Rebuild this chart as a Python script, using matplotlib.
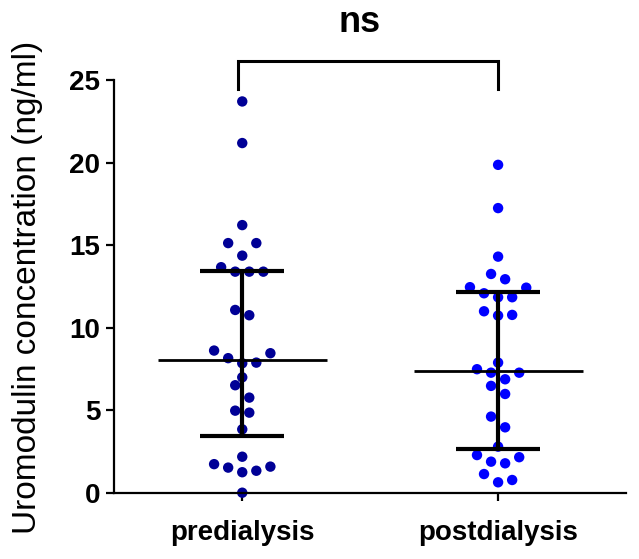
import numpy as np
import matplotlib
matplotlib.use("Agg")
import matplotlib.pyplot as plt

categories = ["predialysis", "postdialysis"]
predialysis = [23.70, 21.18, 16.21, 15.12, 15.12, 14.36, 13.66, 13.39, 13.39, 13.39,
               11.07, 10.75, 8.61, 8.45, 8.15, 7.88, 7.84, 6.99, 6.51, 5.76,
               4.97, 4.85, 3.84, 2.18, 1.73, 1.58, 1.52, 1.33, 1.24, 0.0]
postdialysis = [19.86, 17.24, 14.30, 13.25, 12.93, 12.45, 12.42, 12.08, 11.84, 11.84,
                10.99, 10.77, 10.73, 7.88, 7.48, 7.27, 7.27, 6.87, 6.47, 5.98,
                4.61, 3.96, 2.79, 2.28, 2.15, 1.88, 1.78, 1.13, 0.77, 0.63]
yticks = [0, 5, 10, 15, 20, 25]
sig_label = "ns"
ylabel = "Uromodulin concentration (ng/ml)"

colors = ["#000096", "#0000FF"]
plt.rcParams['font.family'] = ['Liberation Sans', 'DejaVu Sans']

fig = plt.figure(figsize=(6.39, 5.59), dpi=100)
ax = fig.add_axes([0.1789, 0.1186, 0.8008, 0.7383])


def swarm_offsets(vals, thresh=0.8, spacing=0.055):
    """Group nearby values (ascending) and spread each group symmetrically."""
    vals = np.asarray(vals, dtype=float)
    order = np.argsort(vals)
    offs = np.zeros(len(vals))
    groups = []
    cur = []
    for idx in order:
        if cur and vals[idx] - vals[cur[0]] > thresh:
            groups.append(cur)
            cur = []
        cur.append(idx)
    if cur:
        groups.append(cur)
    for g in groups:
        n = len(g)
        slots = [(i - (n - 1) / 2) for i in range(n)]
        slots_sorted = sorted(slots, key=lambda s: (abs(s), -s))
        for idx, s in zip(g, slots_sorted):
            offs[idx] = s * spacing
    return offs


for i, (data, c) in enumerate(zip([predialysis, postdialysis], colors)):
    d = np.asarray(data)
    xo = swarm_offsets(d)
    ax.scatter(i + xo, d, s=56, color=c, edgecolors='none', zorder=2, clip_on=False)
    q1, med, q3 = np.percentile(d, [25, 50, 75], method='weibull')
    ax.plot([i - 0.33, i + 0.33], [med, med], color='black', lw=2.0, zorder=3, solid_capstyle='butt')
    ax.plot([i, i], [q1, q3], color='black', lw=3.0, zorder=3, solid_capstyle='butt')
    for q in (q1, q3):
        ax.plot([i - 0.165, i + 0.165], [q, q], color='black', lw=3.0, zorder=3, solid_capstyle='butt')

# significance bracket
ax.plot([-0.017, -0.017, 1.0, 1.0], [24.47, 26.18, 26.18, 24.47], color='black', lw=2.2,
        clip_on=False, zorder=3, solid_joinstyle='miter')
ax.text(0.46, 28.5, sig_label, ha='center', va='center', fontsize=26, fontweight='bold',
        clip_on=False)

ax.set_xlim(-0.5, 1.5)
ax.set_ylim(0, 25)
ax.set_yticks(yticks)
ax.set_yticklabels([str(t) for t in yticks], fontsize=20, fontweight='bold')
ax.set_xticks([0, 1])
ax.set_xticklabels(categories, fontsize=20, fontweight='bold')
for s in ['top', 'right']:
    ax.spines[s].set_visible(False)
for s in ['left', 'bottom']:
    ax.spines[s].set_linewidth(1.6)
ax.tick_params(axis='y', length=6, width=1.6, pad=4)
ax.tick_params(axis='x', length=6, width=1.6, pad=14)

fig.text(28 / 639, 1 - 287 / 559, ylabel, rotation=90, ha='center', va='center', fontsize=24)

fig.savefig("out.png", dpi=100)
